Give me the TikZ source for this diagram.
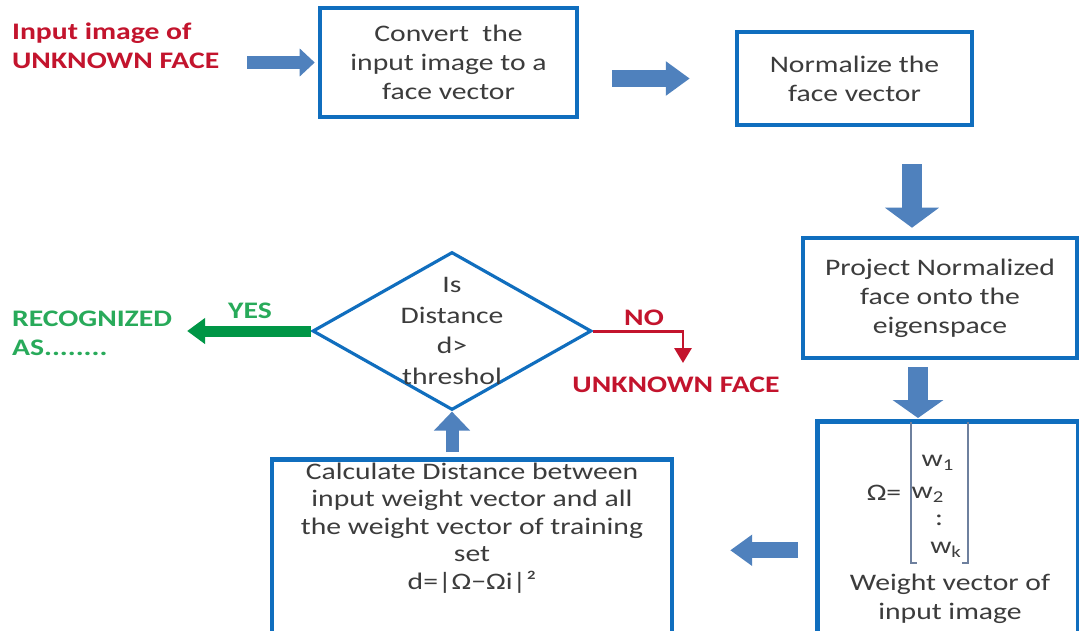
\documentclass[tikz,border=0pt]{standalone}
\usepackage{fontspec}
\setmainfont{Carlito}[FakeStretch=1.25]
\usetikzlibrary{arrows.meta,positioning,shapes.geometric,calc}

\definecolor{boxblue}{RGB}{16,110,190}
\definecolor{arrowblue}{RGB}{79,129,189}
\definecolor{txtgray}{RGB}{60,60,60}
\definecolor{lblred}{RGB}{195,20,45}
\definecolor{lblgreen}{RGB}{40,170,90}
\definecolor{arrowgreen}{RGB}{0,150,70}
\definecolor{bracketgray}{RGB}{110,128,158}

\begin{document}
\begin{tikzpicture}[
    x=0.02cm, y=-0.02cm,
    every node/.style={font=\fontsize{13.5}{16.4}\selectfont, text=txtgray},
    procbox/.style={
        rectangle,
        draw=boxblue,
        line width=2.6pt,
        fill=white,
        align=center,
        inner sep=0pt
    },
    testshape/.style={
        diamond,
        draw=boxblue,
        line width=1.8pt,
        fill=white,
        inner sep=0pt,
        minimum width=5.58cm,
        minimum height=3.16cm
    },
    redlbl/.style={font=\fontsize{13.5}{16.4}\selectfont\bfseries, text=lblred, inner sep=1pt},
    greenlbl/.style={font=\fontsize{13.5}{16.4}\selectfont\bfseries, text=lblgreen, inner sep=1pt},
    blockarrow/.style n args={3}{line width=#1, color=arrowblue, -{Triangle[width=#2,length=#3]}},
    yesarrow/.style={line width=2.2mm, color=arrowgreen, -{Triangle[width=5mm,length=3.6mm]}},
    noline/.style={line width=1.7pt, color=lblred, -{Triangle[width=3.4mm,length=3mm]}},
    bracketline/.style={line width=0.8pt, color=bracketgray}
]

\useasboundingbox (0,0) rectangle (1079,630);
\clip (0,0) rectangle (1079,630);
\fill[white] (0,0) rectangle (1079,630);

% Top row
\node[redlbl, align=left, anchor=west] (inlabel) at (10,46) {Input image of\\UNKNOWN FACE};
\node[procbox, minimum width=5.14cm, minimum height=2.18cm] (convert) at (448.5,62.5)
  {Convert\ \ the\\input image to a\\face vector};
\node[procbox, minimum width=4.7cm, minimum height=1.86cm] (normalize) at (854.5,78.5)
  {Normalize the\\face vector};

% Right column
\node[procbox, minimum width=5.48cm, minimum height=2.4cm] (project) at (940,298)
  {Project Normalized\\face onto the\\eigenspace};
\node[procbox, anchor=north west, minimum width=5.22cm, minimum height=4.6cm] (weight) at (815,419) {};
\node (omega) at (884,493) {Ω=};
\node (wone)  at (938,463) {w\textsubscript{1}};
\node (wtwo)  at (928,495) {w\textsubscript{2}};
\node (wdots) at (939,520) {:};
\node (wk)    at (946,550) {w\textsubscript{k}};
\draw[bracketline] (911,422) -- (911,563) -- (917,563);
\draw[bracketline] (968,422) -- (968,563) -- (962,563);
\node[align=center] (wcaption) at (950,599) {Weight vector of\\input image};

% Bottom left: distance and decision
\node[procbox, anchor=north, minimum width=8cm, minimum height=3.64cm] (calcbox) at (472,457) {};
\node[align=center, font=\fontsize{13.5}{15.6}\selectfont] (calctext) at (472,528)
  {Calculate Distance between\\input weight vector and all\\the weight vector of training\\set\\d=|Ω−Ωi|²};
\node[testshape] (decision) at (452,331) {};
\node[align=center, font=\fontsize{13.5}{17.4}\selectfont] (decisiontext) at (452,331) {Is\\Distance\\d>\\threshol};

% Outcomes
\node[greenlbl, align=left, anchor=west] (recog) at (10,333) {RECOGNIZED\\AS........};
\node[greenlbl] (yes) at (250,311) {YES};
\node[redlbl] (no) at (644,318) {NO};
\node[redlbl] (unknown) at (676,385) {UNKNOWN FACE};
\coordinate (noend) at (683,363);

% Flow arrows
\draw[blockarrow={2.6mm}{5.4mm}{3mm}, shorten <=5.2mm, shorten >=0.6mm]
  (inlabel.east |- convert.west) -- (convert.west);
\draw[blockarrow={3.4mm}{6.6mm}{4.8mm}, shorten <=6.6mm, shorten >=9mm]
  (convert.east |- normalize.west) -- (normalize.west);
\draw[blockarrow={4mm}{10.6mm}{4mm}, shorten <=7.4mm, shorten >=1.6mm]
  ([xshift=1.15cm]normalize.south) -- ([xshift=1.15cm]normalize.south |- project.north);
\draw[blockarrow={4mm}{10mm}{3.6mm}, shorten <=1.4mm, shorten >=0.2mm]
  ([xshift=-0.44cm]project.south) -- ([xshift=-0.44cm]project.south |- weight.north);
\draw[blockarrow={3.2mm}{6mm}{4.4mm}, shorten <=3.4mm, shorten >=11.2mm]
  (weight.west |- calcbox.east) -- (calcbox.east);
\draw[blockarrow={2.6mm}{7mm}{3.8mm}, shorten <=1mm]
  (decision.south |- calcbox.north) -- (decision.south);

\draw[yesarrow, shorten >=2.6mm] (decision.west) -- (recog.east |- decision.west);
\draw[noline] (decision.east) -| (noend);

\end{tikzpicture}
\end{document}
